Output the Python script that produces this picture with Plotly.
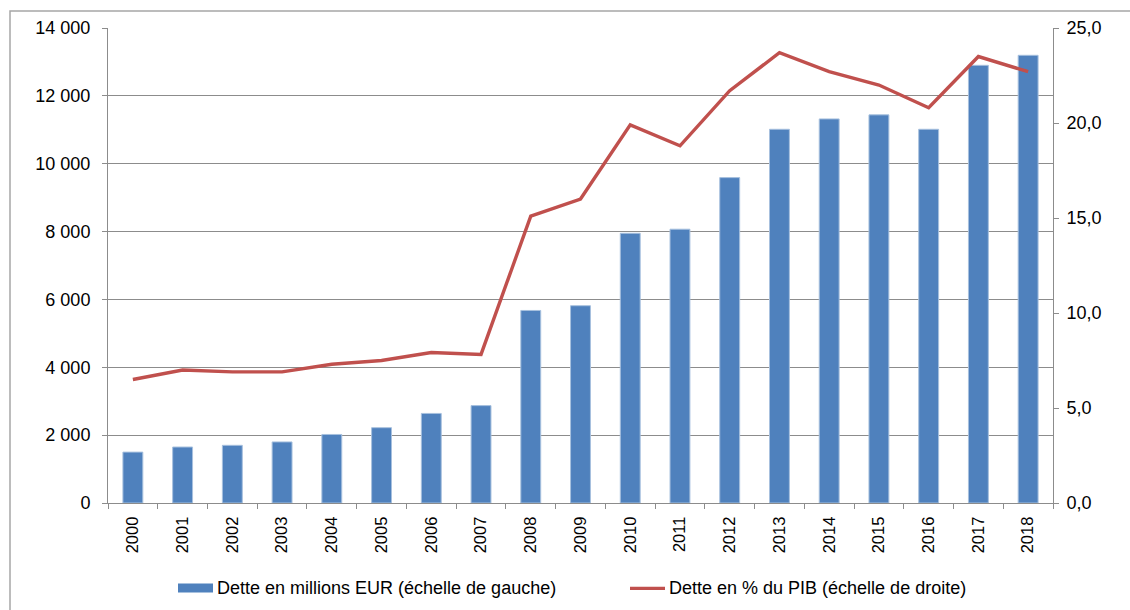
import plotly.graph_objects as go

years = [str(y) for y in range(2000, 2019)]
dette_meur = [1500, 1650, 1700, 1800, 2020, 2220, 2640, 2870, 5675, 5815, 7950, 8070,
              9590, 11015, 11320, 11440, 11015, 12900, 13195]
dette_pib = [6.5, 7.0, 6.9, 6.9, 7.3, 7.5, 7.92, 7.82, 15.1, 16.0, 19.9, 18.8,
             21.7, 23.7, 22.7, 22.0, 20.8, 23.5, 22.7]
left_ticks = list(range(0, 14001, 2000))
right_ticks = [0, 5, 10, 15, 20, 25]
legend_names = ["Dette en millions EUR (échelle de gauche)", "Dette en % du PIB (échelle de droite)"]

BAR = "#4F81BD"
LINE = "#C0504D"
GRID = "#8C8C8C"
FONT = "Liberation Sans, Arial, sans-serif"
FS = 18

W, H = 1130, 610
L, R, T, B = 108, 1053, 28, 503.5


def px(x):
    return (x - L) / (R - L)


def py(y):
    return (B - y) / (B - T)


fig = go.Figure()
fig.add_trace(go.Bar(x=years, y=dette_meur, name=legend_names[0],
                     marker=dict(color=BAR, line=dict(color="#A7C0DE", width=1)),
                     yaxis="y", showlegend=False))
fig.add_trace(go.Scatter(x=years, y=dette_pib, name=legend_names[1], mode="lines",
                         line=dict(color=LINE, width=3.4), yaxis="y2", showlegend=False))

shapes = [
    # outer border
    dict(type="rect", xref="paper", yref="paper", x0=px(10), x1=px(1140), y0=py(11), y1=py(620),
         line=dict(color="#A6A6A6", width=1.5), fillcolor="rgba(0,0,0,0)", layer="below"),
    # legend swatches
    dict(type="rect", xref="paper", yref="paper", x0=px(178), x1=px(213), y0=py(584), y1=py(593),
         line=dict(width=0), fillcolor=BAR),
    dict(type="line", xref="paper", yref="paper", x0=px(630), x1=px(665), y0=py(589), y1=py(589),
         line=dict(color=LINE, width=3.4)),
]
annotations = [
    dict(xref="paper", yref="paper", x=px(215), y=py(589), text=legend_names[0], showarrow=False,
         xanchor="left", yanchor="middle", font=dict(family=FONT, size=FS, color="#000")),
    dict(xref="paper", yref="paper", x=px(667), y=py(589), text=legend_names[1], showarrow=False,
         xanchor="left", yanchor="middle", font=dict(family=FONT, size=FS, color="#000")),
]

fig.update_layout(
    width=W, height=H,
    margin=dict(l=L, r=W - R, t=T, b=H - B, pad=0),
    paper_bgcolor="white", plot_bgcolor="white",
    separators=", ",
    font=dict(family=FONT, size=FS, color="#000"),
    bargap=0.6,
    showlegend=False,
    xaxis=dict(type="category", tickangle=-90, showgrid=False, showline=True, linecolor=GRID,
               linewidth=1, ticks="outside", ticklen=5, tickcolor=GRID, tickson="boundaries",
               tickfont=dict(size=16.5), ticklabelstandoff=6, mirror=False),
    yaxis=dict(range=[0, 14000], tickvals=left_ticks, tickformat=",d", showgrid=True,
               gridcolor=GRID, gridwidth=1, showline=True, linecolor=GRID, ticks="outside",
               ticklen=5, tickcolor=GRID, zeroline=False, tickfont=dict(size=FS),
               ticklabelstandoff=8),
    yaxis2=dict(range=[0, 25], tickvals=right_ticks, tickformat=".1f", overlaying="y",
                side="right", showgrid=False, showline=True, linecolor=GRID, ticks="outside",
                ticklen=5, tickcolor=GRID, zeroline=False, tickfont=dict(size=FS),
                ticklabelstandoff=4),
    shapes=shapes,
    annotations=annotations,
)

fig.write_html("out.html", config={"displayModeBar": False},
               post_script="document.body.style.margin='0';document.body.style.overflow='hidden';")
